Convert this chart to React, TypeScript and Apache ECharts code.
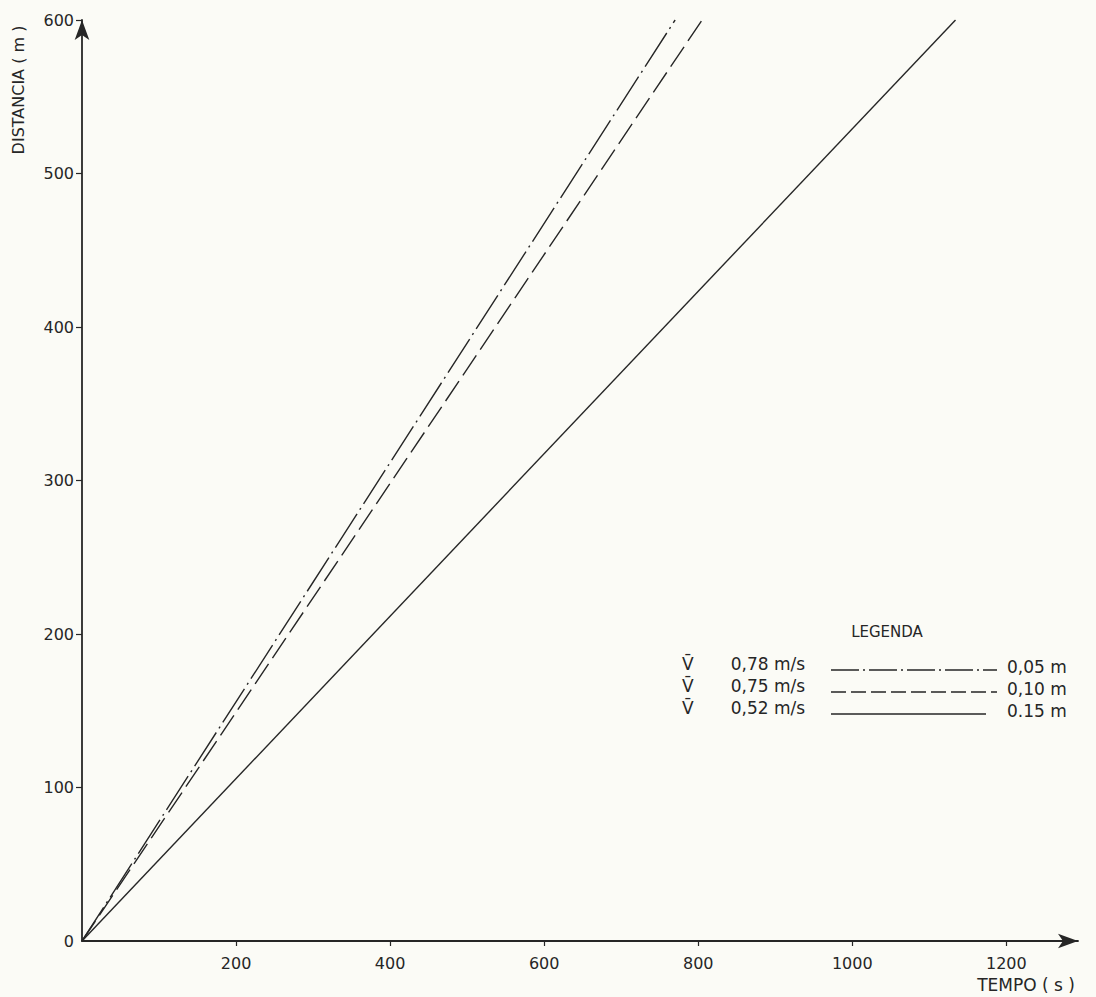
import React, { useEffect, useRef } from "react";
import * as echarts from "echarts";

// ---- data ----
const timeTickValues = [200, 400, 600, 800, 1000, 1200];
const distanceTickValues = [0, 100, 200, 300, 400, 500, 600];
const distanceTickMarks = [100, 200, 300, 400, 500, 600];
const velocityLabels = ["0,78 m/s", "0,75 m/s", "0,52 m/s"];
const depthLabels = ["0,05 m", "0,10 m", "0.15 m"];
// time (s) at which each line reaches 600 m
const startTime = 0;
const startDistance = 0;
const endTimes = [770, 805, 1134];
const endDistance = 600;
const timeMax = 1293;
const distanceMax = 600;

const INK = "#262626";
const FONT = "DejaVu Sans";
const lineDashes: any[] = [[40, 5, 2, 5], [24, 7], "solid"];
const legendDashes: any[] = [[28, 4, 2, 4], [15, 5], "solid"];

export default function App() {
  const ref = useRef<HTMLDivElement>(null);
  useEffect(() => {
    if (!ref.current) return;
    const chart = echarts.init(ref.current, null, { renderer: "svg" });

    const series = endTimes.map((t, i) => ({
      type: "line",
      name: velocityLabels[i],
      data: [
        [startTime, startDistance],
        [t, endDistance],
      ],
      showSymbol: false,
      symbol: "none",
      lineStyle: { color: INK, width: 1.4, type: lineDashes[i] },
    }));

    const legendChildren: any[] = [
      {
        type: "text",
        x: 887,
        y: 632,
        style: { text: "LEGENDA", font: `15px '${FONT}'`, fill: INK, align: "center", verticalAlign: "middle" },
      },
    ];
    velocityLabels.forEach((v, i) => {
      const yc = 664 + i * 22;
      legendChildren.push({
        type: "text",
        x: 682,
        y: yc,
        style: { text: "V\u0304", font: `17px '${FONT}'`, fill: INK, align: "left", verticalAlign: "middle" },
      });
      legendChildren.push({
        type: "text",
        x: 768,
        y: yc,
        style: { text: v, font: `17px '${FONT}'`, fill: INK, align: "center", verticalAlign: "middle" },
      });
      legendChildren.push({
        type: "line",
        shape: { x1: 831, y1: yc + 6, x2: i === 2 ? 986 : 997, y2: yc + 6 },
        style: { stroke: INK, lineWidth: 1.3, lineDash: legendDashes[i] === "solid" ? null : legendDashes[i] },
      });
      legendChildren.push({
        type: "text",
        x: 1007,
        y: yc + 3,
        style: { text: depthLabels[i], font: `17px '${FONT}'`, fill: INK, align: "left", verticalAlign: "middle" },
      });
    });

    chart.setOption({
      animation: false,
      backgroundColor: "#fbfbf6",
      grid: { left: 82, top: 20, right: 18, bottom: 56, containLabel: false },
      xAxis: {
        type: "value",
        min: 0,
        max: timeMax,
        splitLine: { show: false },
        axisLine: {
          lineStyle: { color: INK, width: 1.8 },
          symbol: ["none", "arrow"],
          symbolSize: [11, 20],
        },
        axisTick: { show: true, customValues: timeTickValues, length: 5, lineStyle: { color: INK, width: 1.2 } },
        axisLabel: {
          customValues: timeTickValues,
          formatter: (v: number) => String(v),
          color: INK,
          fontFamily: FONT,
          fontSize: 16,
          margin: 14,
        },
      },
      yAxis: {
        type: "value",
        min: 0,
        max: distanceMax,
        splitLine: { show: false },
        axisLine: {
          lineStyle: { color: INK, width: 1.8 },
          symbol: ["none", "arrow"],
          symbolSize: [11, 20],
        },
        axisTick: { show: true, customValues: distanceTickMarks, length: 6, lineStyle: { color: INK, width: 1.2 } },
        axisLabel: {
          customValues: distanceTickValues,
          formatter: (v: number) => String(v),
          color: INK,
          fontFamily: FONT,
          fontSize: 16,
          margin: 8,
        },
      },
      series,
      graphic: [
        {
          type: "text",
          x: 18,
          y: 90,
          rotation: Math.PI / 2,
          style: {
            text: "DISTANCIA ( m )",
            font: `16px '${FONT}'`,
            fill: INK,
            align: "center",
            verticalAlign: "middle",
          },
        },
        {
          type: "text",
          x: 1026,
          y: 985,
          style: {
            text: "TEMPO ( s )",
            font: `17px '${FONT}'`,
            fill: INK,
            align: "center",
            verticalAlign: "middle",
          },
        },
        { type: "group", children: legendChildren },
      ],
    });
    return () => chart.dispose();
  }, []);

  return (
    <div
      ref={ref}
      style={{ position: "absolute", left: 0, top: 0, width: 1096, height: 997, background: "#fbfbf6" }}
    />
  );
}
